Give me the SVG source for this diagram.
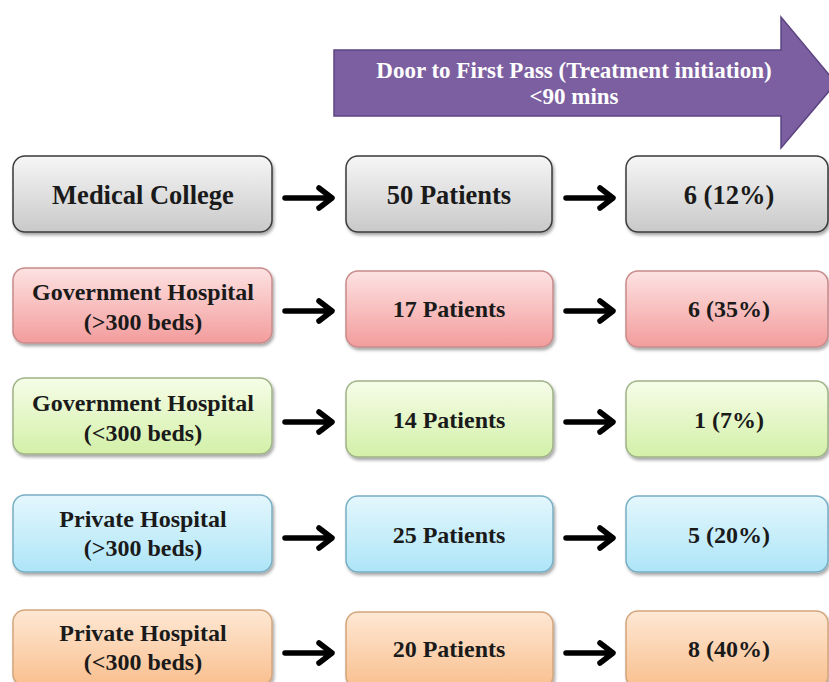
<svg xmlns="http://www.w3.org/2000/svg" width="829" height="682" viewBox="0 0 829 682">
<defs>
<linearGradient id="gGray" x1="0" y1="0" x2="0" y2="1"><stop offset="0" stop-color="#f6f6f6"/><stop offset="1" stop-color="#c9c9c9"/></linearGradient>
<linearGradient id="gPink" x1="0" y1="0" x2="0" y2="1"><stop offset="0" stop-color="#fde2e2"/><stop offset="1" stop-color="#f39c9c"/></linearGradient>
<linearGradient id="gGreen" x1="0" y1="0" x2="0" y2="1"><stop offset="0" stop-color="#f6fde8"/><stop offset="1" stop-color="#d3f0a8"/></linearGradient>
<linearGradient id="gBlue" x1="0" y1="0" x2="0" y2="1"><stop offset="0" stop-color="#e4f7fd"/><stop offset="1" stop-color="#ade5f7"/></linearGradient>
<linearGradient id="gOrange" x1="0" y1="0" x2="0" y2="1"><stop offset="0" stop-color="#fee8d4"/><stop offset="1" stop-color="#f9bf8e"/></linearGradient>
<filter id="sh" x="-10%" y="-10%" width="120%" height="130%"><feDropShadow dx="1.5" dy="2.5" stdDeviation="1.8" flood-color="#000" flood-opacity="0.35"/></filter>
</defs>
<style>
text{font-family:"Liberation Serif","Times New Roman",serif;font-weight:bold;text-anchor:middle;fill:#1a1a1a}
.t1{font-size:26.5px}
.t2{font-size:24px}
.ban{fill:#ffffff;font-size:23px}
.box{stroke-width:1.5;filter:url(#sh)}
.gray{fill:url(#gGray);stroke:#3a3a3a}
.pink{fill:url(#gPink);stroke:#c88a8a}
.green{fill:url(#gGreen);stroke:#9fb287}
.blue{fill:url(#gBlue);stroke:#78aec4}
.orange{fill:url(#gOrange);stroke:#d3a57c}
.conn path{fill:none;stroke:#000;stroke-width:5.5;stroke-linecap:round;stroke-linejoin:round}
</style>
<g id="banner">
<path d="M334,50 H781 V17 L836,83 L781,148 V116 H334 Z" fill="#7c5fa0" stroke="#5c4482" stroke-width="1.5"/>
<text class="ban" x="574" y="78">Door to First Pass (Treatment initiation)</text>
<text class="ban" x="574" y="104">&lt;90 mins</text>
</g>
<g id="row1">
<g id="mc"><rect class="box gray" x="13" y="156" width="259" height="76" rx="12"/><text class="t1" x="143" y="204">Medical College</text></g>
<g id="mc-p"><rect class="box gray" x="346" y="156" width="206" height="76" rx="12"/><text class="t1" x="449" y="204">50 Patients</text></g>
<g id="mc-r"><rect class="box gray" x="626" y="156" width="202" height="76" rx="12"/><text class="t1" x="729" y="204">6 (12%)</text></g>
</g>
<g id="row2">
<g id="gh1"><rect class="box pink" x="13" y="268" width="259" height="75" rx="12"/><text class="t2" x="143" y="300">Government Hospital</text><text class="t2" x="143" y="330">(&gt;300 beds)</text></g>
<g id="gh1-p"><rect class="box pink" x="346" y="271" width="207" height="76" rx="12"/><text class="t2" x="449" y="317">17 Patients</text></g>
<g id="gh1-r"><rect class="box pink" x="626" y="271" width="202" height="76" rx="12"/><text class="t2" x="729" y="317">6 (35%)</text></g>
</g>
<g id="row3">
<g id="gh2"><rect class="box green" x="13" y="378" width="259" height="76" rx="12"/><text class="t2" x="143" y="411">Government Hospital</text><text class="t2" x="143" y="441">(&lt;300 beds)</text></g>
<g id="gh2-p"><rect class="box green" x="346" y="381" width="207" height="76" rx="12"/><text class="t2" x="449" y="428">14 Patients</text></g>
<g id="gh2-r"><rect class="box green" x="626" y="381" width="202" height="76" rx="12"/><text class="t2" x="729" y="428">1 (7%)</text></g>
</g>
<g id="row4">
<g id="ph1"><rect class="box blue" x="13" y="495" width="259" height="77" rx="12"/><text class="t2" x="143" y="527">Private Hospital</text><text class="t2" x="143" y="556">(&gt;300 beds)</text></g>
<g id="ph1-p"><rect class="box blue" x="346" y="496" width="207" height="76" rx="12"/><text class="t2" x="449" y="543">25 Patients</text></g>
<g id="ph1-r"><rect class="box blue" x="626" y="496" width="202" height="76" rx="12"/><text class="t2" x="729" y="543">5 (20%)</text></g>
</g>
<g id="row5">
<g id="ph2"><rect class="box orange" x="13" y="610" width="259" height="76" rx="12"/><text class="t2" x="143" y="641">Private Hospital</text><text class="t2" x="143" y="670">(&lt;300 beds)</text></g>
<g id="ph2-p"><rect class="box orange" x="346" y="612" width="207" height="76" rx="12"/><text class="t2" x="449" y="657">20 Patients</text></g>
<g id="ph2-r"><rect class="box orange" x="626" y="611" width="202" height="77" rx="12"/><text class="t2" x="729" y="657">8 (40%)</text></g>
</g>
<g id="connectors" class="conn">
<path d="M285,198 H331 M319,188 L332,198 L319,208"/>
<path d="M566,198 H612 M600,188 L613,198 L600,208"/>
<path d="M285,311 H331 M319,301 L332,311 L319,321"/>
<path d="M566,311 H612 M600,301 L613,311 L600,321"/>
<path d="M285,422 H331 M319,412 L332,422 L319,432"/>
<path d="M566,422 H612 M600,412 L613,422 L600,432"/>
<path d="M285,538 H331 M319,528 L332,538 L319,548"/>
<path d="M566,538 H612 M600,528 L613,538 L600,548"/>
<path d="M285,653 H331 M319,643 L332,653 L319,663"/>
<path d="M566,653 H612 M600,643 L613,653 L600,663"/>
</g>
</svg>
